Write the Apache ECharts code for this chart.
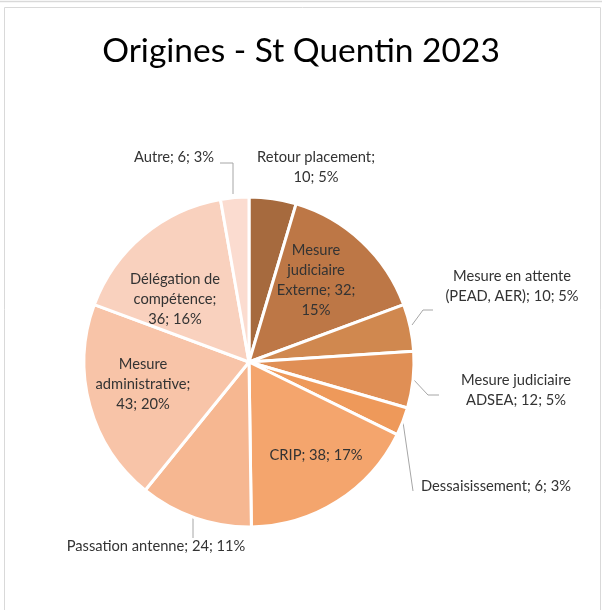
<!DOCTYPE html>
<html>
<head>
<meta charset="utf-8">
<script src="https://cdn.jsdelivr.net/npm/echarts@6/dist/echarts.min.js"></script>
<style>
  html, body { margin: 0; padding: 0; background: #fff; }
  #chart { width: 602px; height: 610px; }
</style>
</head>
<body>
<div id="chart"></div>
<script>
// données
var categories = ['Retour placement', 'Mesure judiciaire Externe', 'Mesure en attente (PEAD, AER)',
  'Mesure judiciaire ADSEA', 'Dessaisissement', 'CRIP', 'Passation antenne',
  'Mesure administrative', 'Délégation de compétence', 'Autre'];
var values = [10, 32, 10, 12, 6, 38, 24, 43, 36, 6];
var percents = [5, 15, 5, 5, 3, 17, 11, 20, 16, 3];
var colors = ['#A66A3E', '#BD7746', '#D0884F', '#E08F55', '#EE995A',
  '#F4A56D', '#F6B791', '#F8C4A8', '#F9D1BE', '#FBDCD0'];

// placement des étiquettes : centre du texte, nombre de mots par ligne
var labelPos = [
  { x: 316, y: 167, words: [2, 2] },
  { x: 316, y: 280, words: [1, 1, 2, 1] },
  { x: 512, y: 286, words: [3, 4] },
  { x: 516, y: 390, words: [2, 3] },
  { x: 496, y: 486, words: [3] },
  { x: 316, y: 455, words: [3] },
  { x: 156, y: 546, words: [4] },
  { x: 143, y: 384, words: [1, 1, 2] },
  { x: 175, y: 299, words: [2, 1, 2] },
  { x: 174, y: 157, words: [3] }
];
var leaderLines = {
  2: [[412, 325], [423, 310], [433, 310]],
  3: [[413, 379], [428, 395], [439, 395]],
  4: [[403, 422], [413, 491]],
  6: [[193, 518], [193, 538]],
  9: [[233, 194], [233, 163], [220, 163]]
};

function wrap(text, counts) {
  var w = text.split(' ');
  var lines = [], k = 0;
  counts.forEach(function (n) {
    lines.push(w.slice(k, k + n).join(' '));
    k += n;
  });
  return lines.join('\n');
}

var chart = echarts.init(document.getElementById('chart'));

var data = categories.map(function (name, i) {
  return {
    name: name,
    value: values[i],
    itemStyle: { color: colors[i] },
    labelLine: { show: !!leaderLines[i] }
  };
});

var option = {
  animation: false,
  title: {
    text: 'Origines - St Quentin 2023',
    left: 'center',
    top: 29,
    textStyle: { fontFamily: 'Lato', fontWeight: 'normal', fontSize: 33.5, color: '#000' }
  },
  graphic: [
    { type: 'rect', shape: { x: 4.5, y: 7.5, width: 596, height: 610 },
      style: { fill: 'none', stroke: '#D9D9D9', lineWidth: 1 } },
    { type: 'line', shape: { x1: 0, y1: 1.5, x2: 602, y2: 1.5 },
      style: { stroke: '#D9D9D9', lineWidth: 1.5 } }
  ],
  series: [{
    type: 'pie',
    center: [249, 362],
    radius: 165,
    startAngle: 90,
    clockwise: true,
    avoidLabelOverlap: false,
    itemStyle: { borderColor: '#fff', borderWidth: 3 },
    label: {
      position: 'outside',
      align: 'center',
      fontFamily: 'Lato',
      fontSize: 14.7,
      lineHeight: 20,
      color: '#333',
      formatter: function (p) {
        var txt = p.name + '; ' + p.value + '; ' + percents[p.dataIndex] + '%';
        return wrap(txt, labelPos[p.dataIndex].words);
      }
    },
    labelLine: { lineStyle: { color: '#A6A6A6', width: 1 } },
    labelLayout: function (p) {
      var lp = labelPos[p.dataIndex];
      var res = { x: lp.x, y: lp.y, align: 'center', verticalAlign: 'middle' };
      if (leaderLines[p.dataIndex]) res.labelLinePoints = leaderLines[p.dataIndex];
      return res;
    },
    emphasis: { disabled: true },
    data: data
  }]
};

chart.setOption(option);
</script>
</body>
</html>
